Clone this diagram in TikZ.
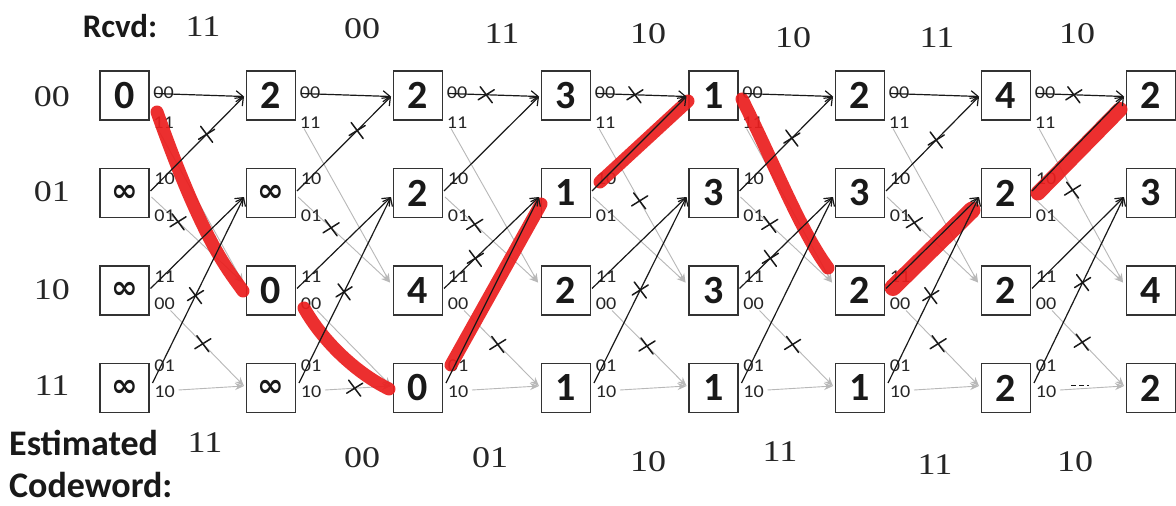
\documentclass[tikz,border=0pt]{standalone}
\usepackage{fontspec}
\setmainfont{Carlito}
\newfontfamily\boxfont{Carlito}
\newfontfamily\lblfont{Carlito}[FakeStretch=1.12]
\newfontfamily\sdfont{Liberation Serif}[FakeStretch=1.2]
\newfontfamily\inffont{DejaVu Sans}
\usetikzlibrary{arrows.meta,calc}
\definecolor{mkred}{RGB}{235,30,30}
\newcommand\infsym{{\inffont\bfseries\fontsize{32}{32}\selectfont ∞}}
\newcommand\xm[3]{\pic at ($(#1)!#3!(#2)$) {xmk};}
\tikzset{
  st/.style={draw=black!80, line width=1.3pt, minimum width=49pt, minimum height=49pt, inner sep=0pt, fill=white, text=black!90, font=\boxfont\bfseries\fontsize{40}{40}\selectfont},
  lbl/.style={font=\lblfont\fontsize{18}{18}\selectfont, inner sep=0pt, text=black!85},
  sd/.style={font=\sdfont\fontsize{30}{30}\selectfont, inner sep=0pt, text=black!85},
  hd/.style={font=\bfseries\fontsize{33}{33}\selectfont, inner sep=0pt, text=black!90},
  blk/.style={draw=black!90, line width=1.2pt, -{Straight Barb[length=7pt,width=11pt,line width=1.2pt]}},
  gry/.style={draw=black!28, line width=0.9pt, -{Stealth[length=9pt,width=7pt]}},
  redmk/.style={draw=mkred, line width=13pt, line cap=round, opacity=0.92},
  xmk/.pic={\draw[black!90, line width=1.5pt, line cap=round] (-6,-8)--(6,8) (-8,5)--(8,-5);}
}
\begin{document}
\begin{tikzpicture}[x=1pt,y=-1pt]
\useasboundingbox (0,0) rectangle (1176,506);
\fill[white] (0,0) rectangle (1176,506);
% box positions
\foreach \c/\x in {0/124.5,1/271,2/418,3/566,4/713.5,5/860,6/1006,7/1151}{
  \foreach \r/\y in {0/95.5,1/193,2/290.5,3/388}{
    \coordinate (p\c\r) at (\x,\y);
  }
}
% boxes
\node[st] (b00) at (p00) {0};
\node[st] (b01) at (p01) {\infsym};
\node[st] (b02) at (p02) {\infsym};
\node[st] (b03) at (p03) {\infsym};
\node[st] (b10) at (p10) {2};
\node[st] (b11) at (p11) {\infsym};
\node[st] (b12) at (p12) {0};
\node[st] (b13) at (p13) {\infsym};
\node[st] (b20) at (p20) {2};
\node[st] (b21) at (p21) {2};
\node[st] (b22) at (p22) {4};
\node[st] (b23) at (p23) {0};
\node[st] (b30) at (p30) {3};
\node[st] (b31) at (p31) {1};
\node[st] (b32) at (p32) {2};
\node[st] (b33) at (p33) {1};
\node[st] (b40) at (p40) {1};
\node[st] (b41) at (p41) {3};
\node[st] (b42) at (p42) {3};
\node[st] (b43) at (p43) {1};
\node[st] (b50) at (p50) {2};
\node[st] (b51) at (p51) {3};
\node[st] (b52) at (p52) {2};
\node[st] (b53) at (p53) {1};
\node[st] (b60) at (p60) {4};
\node[st] (b61) at (p61) {2};
\node[st] (b62) at (p62) {2};
\node[st] (b63) at (p63) {2};
\node[st] (b70) at (p70) {2};
\node[st] (b71) at (p71) {3};
\node[st] (b72) at (p72) {4};
\node[st] (b73) at (p73) {2};
% ports
\foreach \c in {0,...,6}{
  \coordinate (o\c0a) at ($(b\c0)+(30,-2)$);
  \coordinate (o\c0b) at ($(b\c0)+(33,33)$);
  \coordinate (o\c1a) at ($(b\c1)+(26,-2)$);
  \coordinate (o\c1b) at ($(b\c1)+(27,4)$);
  \coordinate (o\c2a) at ($(b\c2)+(26,-2)$);
  \coordinate (o\c2b) at ($(b\c2)+(46,20)$);
  \coordinate (o\c3a) at ($(b\c3)+(28,-5)$);
  \coordinate (o\c3b) at ($(b\c3)+(54,2)$);
}
\foreach \c in {1,...,7}{
  \coordinate (i\c0) at ($(b\c0)+(-27,1)$);
  \coordinate (i\c1) at ($(b\c1)+(-27,4)$);
  \coordinate (i\c2) at ($(b\c2)+(-28,-8)$);
  \coordinate (i\c3) at ($(b\c3)+(-27,-2)$);
}
% gray branches
\foreach \c [count=\n from 1] in {0,...,6}{
  \draw[gry] (o\c0b) -- (i\n2);
  \draw[gry] (o\c1b) -- (i\n2);
  \draw[gry] (o\c2b) -- (i\n3);
  \draw[gry] (o\c3b) -- (i\n3);
}
% branch labels
\foreach \c in {0,...,6}{
  \node[lbl] (l\c0a) at ($(b\c0)+(39,-3)$) {00};
  \node[lbl] (l\c0b) at ($(b\c0)+(39,27)$) {11};
  \node[lbl] (l\c1a) at ($(b\c1)+(40,-14)$) {10};
  \node[lbl] (l\c1b) at ($(b\c1)+(40,23)$) {01};
  \node[lbl] (l\c2a) at ($(b\c2)+(40,-14)$) {11};
  \node[lbl] (l\c2b) at ($(b\c2)+(40,13)$) {00};
  \node[lbl] (l\c3a) at ($(b\c3)+(40,-22)$) {01};
  \node[lbl] (l\c3b) at ($(b\c3)+(40,4)$) {10};
}
% red survivor path
\draw[redmk] ($(b00)+(32.5,16.5)$) .. controls ($(b00)+(78,145)$) and ($(b12)+(-44,-22)$) .. ($(b12)+(-28,0.5)$);
\draw[redmk] ($(b12)+(33,17.5)$) .. controls ($(b12)+(54,54.5)$) and ($(b23)+(-58,-13)$) .. ($(b23)+(-29,1)$);
\draw[redmk] ($(b23)+(33,-23)$) -- ($(b31)+(-25,11)$);
\draw[redmk] ($(b31)+(34,-11)$) -- ($(b40)+(-25.5,5.5)$);
\draw[redmk] ($(b40)+(28.5,3.5)$) .. controls ($(b40)+(61.5,69.5)$) and ($(b52)+(-60,-60.5)$) .. ($(b52)+(-32,-22.5)$);
\draw[redmk, line width=17pt] ($(b52)+(33,-3)$) -- ($(b61)+(-34,17)$);
\draw[redmk, line width=15pt] ($(b61)+(32,0)$) -- ($(b70)+(-31,14)$);
% black branches
\foreach \c [count=\n from 1] in {0,...,6}{
  \draw[blk] (o\c0a) -- (i\n0);
  \draw[blk] (o\c1a) -- (i\n0);
  \draw[blk] (o\c2a) -- (i\n1);
  \draw[blk] (o\c3a) -- (i\n1);
}
% crosses on discarded branches
\xm{o01a}{i10}{0.6} \xm{o01b}{i12}{0.29} \xm{o03a}{i11}{0.47} \xm{o02b}{i13}{0.44}
\xm{o11a}{i20}{0.64} \xm{o11b}{i22}{0.36} \xm{o13a}{i21}{0.49} \xm{o13b}{i23}{0.45}
\xm{o20a}{i30}{0.42} \xm{o21b}{i32}{0.32} \xm{o22a}{i31}{0.33} \xm{o22b}{i33}{0.45}
\xm{o30a}{i40}{0.43} \xm{o30b}{i42}{0.47} \xm{o33a}{i41}{0.5} \xm{o32b}{i43}{0.47}
\xm{o41a}{i50}{0.56} \xm{o41b}{i52}{0.32} \xm{o42a}{i51}{0.33} \xm{o42b}{i53}{0.45}
\xm{o51a}{i60}{0.54} \xm{o51b}{i62}{0.3} \xm{o53a}{i61}{0.47} \xm{o52b}{i63}{0.44}
\xm{o60a}{i70}{0.43} \xm{o60b}{i72}{0.4} \xm{o63a}{i71}{0.54} \xm{o62b}{i73}{0.42}
\coordinate (dm) at ($(o63b)!0.3!(i73)$);
\draw[black!90, line width=1pt, dash pattern=on 5pt off 3pt] ($(dm)+(-8,-3)$) -- ($(dm)+(10,-3)$);
% state labels
\node[sd] (s0) at (52,97) {00};
\node[sd] (s1) at (52,192) {01};
\node[sd] (s2) at (52,290) {10};
\node[sd] (s3) at (52,386) {11};
% received
\node[hd] (rc) at (120,26) {Rcvd:};
\node[sd] (r1) at (203,27) {11};
\node[sd] (r2) at (362,29) {00};
\node[sd] (r3) at (502,34) {11};
\node[sd] (r4) at (648,34) {10};
\node[sd] (r5) at (793,38) {10};
\node[sd] (r6) at (937,38) {11};
\node[sd] (r7) at (1077,34) {10};
% estimated codeword
\node[hd, anchor=base west, font=\bfseries\fontsize{36}{36}\selectfont] (est) at (9,455) {Estimated};
\node[hd, anchor=base west, font=\bfseries\fontsize{36}{36}\selectfont] (cw) at (9,497) {Codeword:};
\node[sd] (e1) at (205,443) {11};
\node[sd] (e2) at (362,458) {00};
\node[sd] (e3) at (490,458) {01};
\node[sd] (e4) at (648,462) {10};
\node[sd] (e5) at (780,452) {11};
\node[sd] (e6) at (935,465) {11};
\node[sd] (e7) at (1075,462) {10};
\end{tikzpicture}
\end{document}
